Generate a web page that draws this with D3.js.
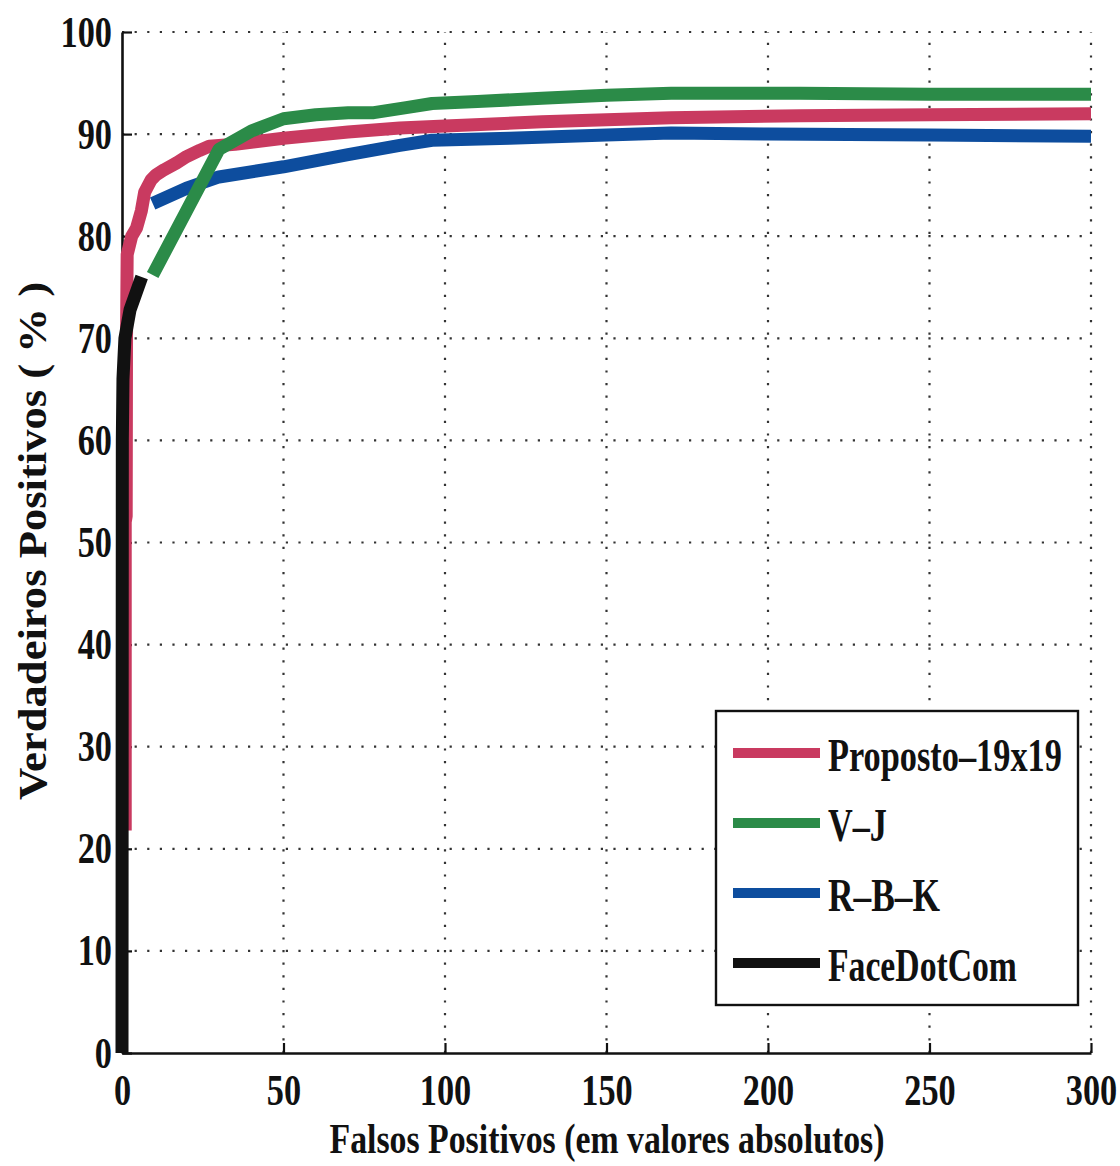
<!DOCTYPE html>
<html><head><meta charset="utf-8">
<script src="https://cdn.jsdelivr.net/npm/d3@7/dist/d3.min.js"></script>
<style>body{margin:0;background:#fff}svg{display:block}</style>
</head><body>
<svg id="c" width="1120" height="1166"></svg>
<script>
// ---- data ----
const seriesNames = ["Proposto–19x19", "V–J", "R–B–K", "FaceDotCom"];
const seriesColors = ["#c93a60", "#2b8b48", "#0d4d9e", "#111111"];
const proposto = [[1,21.8],[1,52],[1.3,52.6],[1.4,70],[1.6,78.2],[3,80],[4.5,80.8],[6,82.5],[7,84.3],[9,85.5],[10.5,86],[13,86.5],[17,87.2],[20,87.8],[24,88.4],[27,88.8],[35,89],[50,89.6],[70,90.2],[86,90.6],[100,90.8],[130,91.2],[170,91.6],[210,91.8],[250,91.9],[300,92]];
const vj = [[9.5,76.2],[20,82.5],[30,88.5],[40,90.3],[50,91.5],[60,91.9],[70,92.1],[78,92.1],[88,92.6],[96,93],[110,93.2],[130,93.5],[150,93.8],[170,94],[210,94],[250,93.9],[300,93.9]];
const rbk = [[9.5,83.2],[20,84.7],[30,85.8],[50,86.8],[70,88],[86,88.9],[96,89.4],[120,89.6],[150,89.9],[170,90.1],[200,90],[250,89.9],[300,89.8]];
const facedotcom = [[0,0],[0.1,60],[0.3,66],[0.9,70],[2.5,72.8],[6.1,76]];
const xTicks = [0,50,100,150,200,250,300];
const yTicks = [0,10,20,30,40,50,60,70,80,90,100];
const xTitle = "Falsos Positivos (em valores absolutos)";
const yTitle = "Verdadeiros Positivos ( % )";

const allSeries = [proposto, vj, rbk, facedotcom];

// ---- layout ----
const svg = d3.select("#c");
const x = d3.scaleLinear().domain([0,300]).range([122,1091]);
const y = d3.scaleLinear().domain([0,100]).range([1053,32]);
const FONT = "'Liberation Serif','Times New Roman',serif";

// grid
const grid = svg.append("g");
grid.selectAll(".vx").data(xTicks.filter(d=>d>0)).enter().append("line")
  .attr("x1",d=>x(d)).attr("x2",d=>x(d)).attr("y1",y(0)).attr("y2",y(100))
  .attr("stroke","#333").attr("stroke-width",2.2).attr("stroke-dasharray","2.2,10.4");
grid.selectAll(".hy").data(yTicks.filter(d=>d>0)).enter().append("line")
  .attr("y1",d=>y(d)).attr("y2",d=>y(d)).attr("x1",x(0)).attr("x2",x(300))
  .attr("stroke","#333").attr("stroke-width",2.2).attr("stroke-dasharray","2.2,10.4");

// axes
const ax = svg.append("g").attr("transform",`translate(0,${y(0)})`)
  .call(d3.axisBottom(x).tickValues(xTicks).tickSizeInner(-10).tickSizeOuter(0).tickPadding(21));
const ay = svg.append("g").attr("transform",`translate(${x(0)},0)`)
  .call(d3.axisLeft(y).tickValues(yTicks).tickSizeInner(-10).tickSizeOuter(0).tickPadding(10));
[ax,ay].forEach(g=>{
  g.select(".domain").attr("stroke","#111").attr("stroke-width",2.6);
  g.selectAll(".tick line").attr("stroke","#111").attr("stroke-width",2.2);
  g.selectAll(".tick text").attr("font-family",FONT).attr("font-weight","bold")
   .attr("font-size",44).attr("fill","#111");
});
ax.selectAll(".tick text").attr("transform","scale(0.78,1)");
ay.selectAll(".tick text").attr("x",-10/0.78).attr("transform","scale(0.78,1)");

// lines (draw order: red, blue, green, black on top)
const line = d3.line().x(d=>x(d[0])).y(d=>y(d[1]));
const order = [0,2,1,3];
order.forEach(i=>{
  svg.append("path").datum(allSeries[i]).attr("d",line)
    .attr("fill","none").attr("stroke",seriesColors[i]).attr("stroke-width",13)
    .attr("stroke-linejoin","round").attr("stroke-linecap","butt");
});

// titles
svg.append("text").attr("x",607).attr("y",1153).attr("text-anchor","middle")
  .attr("font-family",FONT).attr("font-weight","bold").attr("font-size",42).attr("fill","#111")
  .attr("textLength",555).attr("lengthAdjust","spacingAndGlyphs").text(xTitle);
svg.append("text").attr("transform","translate(46,541) rotate(-90)").attr("text-anchor","middle")
  .attr("font-family",FONT).attr("font-weight","bold").attr("font-size",40).attr("fill","#111")
  .attr("textLength",518).attr("lengthAdjust","spacingAndGlyphs").text(yTitle);

// legend
const lg = svg.append("g").attr("transform","translate(716,711)");
lg.append("rect").attr("width",362).attr("height",294).attr("fill","#fff")
  .attr("stroke","#111").attr("stroke-width",2.4);
const legW = [234,59,112,189];
seriesNames.forEach((n,i)=>{
  const yy = 42 + i*70;
  lg.append("line").attr("x1",17).attr("x2",104).attr("y1",yy).attr("y2",yy)
    .attr("stroke",seriesColors[i]).attr("stroke-width",10);
  const g = lg.append("g").attr("transform",`translate(112,${yy+18})`);
  const t = g.append("text").attr("x",0).attr("y",0).attr("font-family",FONT)
    .attr("font-weight","bold").attr("font-size",47).attr("fill","#111").text(n);
  const len = t.node().getComputedTextLength();
  const s = len > 0 ? legW[i]/len : 0.75;
  t.attr("transform",`scale(${s},1)`);
});
</script>
</body></html>
